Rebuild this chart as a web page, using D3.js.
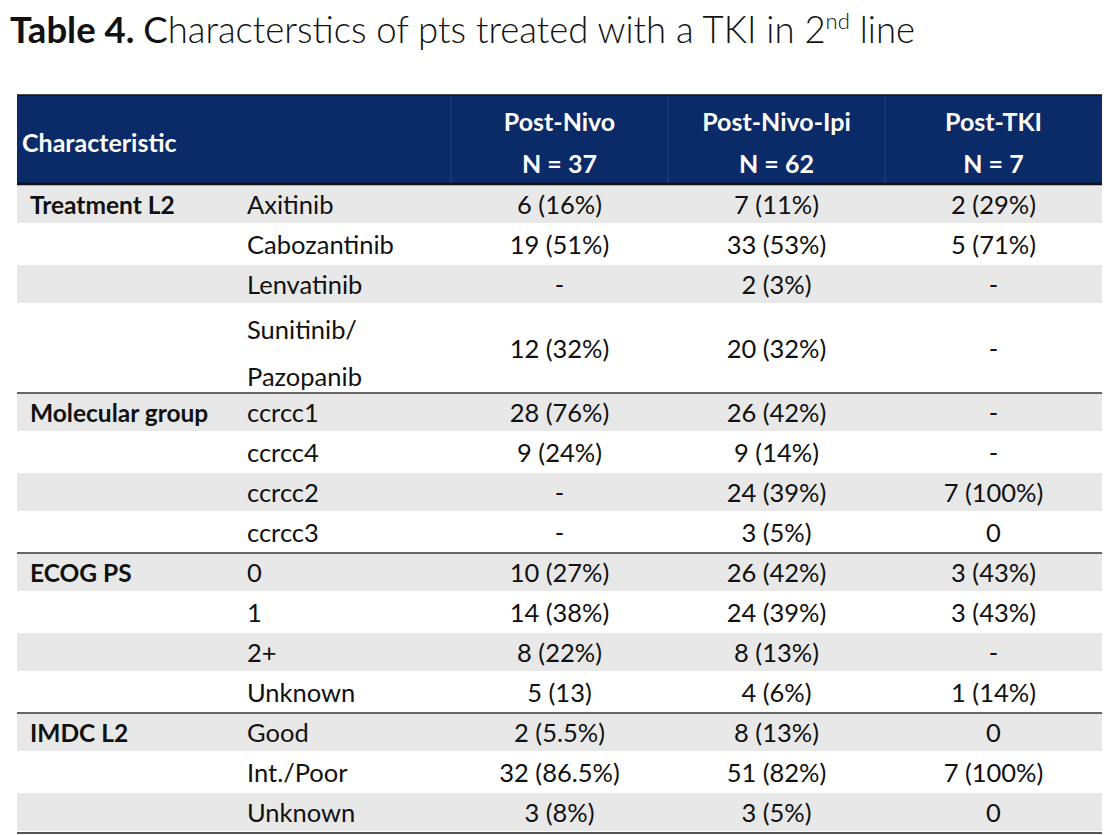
<!DOCTYPE html>
<html lang="en">
<head>
<meta charset="utf-8">
<title>Table 4</title>
<script src="https://cdn.jsdelivr.net/npm/d3@7"></script>
<style>
  body { margin: 0; background: #fff; }
  text { font-family: Lato, "Open Sans", sans-serif; }
</style>
</head>
<body>
<script>
// table content
var columns = ["Post-Nivo", "Post-Nivo-Ipi", "Post-TKI"];
var columnN = ["N = 37", "N = 62", "N = 7"];
var groups = ["Treatment L2", "", "", "", "Molecular group", "", "", "", "ECOG PS", "", "", "", "IMDC L2", "", ""];
var rowLabels = ["Axitinib", "Cabozantinib", "Lenvatinib", "Sunitinib/\nPazopanib",
  "ccrcc1", "ccrcc4", "ccrcc2", "ccrcc3",
  "0", "1", "2+", "Unknown",
  "Good", "Int./Poor", "Unknown"];
var postNivo = ["6 (16%)", "19 (51%)", "-", "12 (32%)",
  "28 (76%)", "9 (24%)", "-", "-",
  "10 (27%)", "14 (38%)", "8 (22%)", "5 (13)",
  "2 (5.5%)", "32 (86.5%)", "3 (8%)"];
var postNivoIpi = ["7 (11%)", "33 (53%)", "2 (3%)", "20 (32%)",
  "26 (42%)", "9 (14%)", "24 (39%)", "3 (5%)",
  "26 (42%)", "24 (39%)", "8 (13%)", "4 (6%)",
  "8 (13%)", "51 (82%)", "3 (5%)"];
var postTKI = ["2 (29%)", "5 (71%)", "-", "-",
  "-", "-", "7 (100%)", "0",
  "3 (43%)", "3 (43%)", "-", "1 (14%)",
  "0", "7 (100%)", "0"];

var W = 1111, H = 835;
var left = 17, right = 1102, headTop = 95, headBottom = 185, bottom = 833;
var navy = "#0b2a68";

var svg = d3.select("body").append("svg")
  .attr("width", W).attr("height", H);

// title
var title = svg.append("text").attr("x", 10).attr("y", 43)
  .attr("font-size", 36.5).attr("fill", "#111");
title.append("tspan").attr("font-weight", 700).text("Table 4. ");
title.append("tspan").attr("font-weight", 400).text("C");
title.append("tspan").attr("font-weight", 300).text("haracterstics of pts treated with a TKI in 2");
title.append("tspan").attr("font-weight", 300).attr("font-size", 22).attr("dy", -14).text("nd");
title.append("tspan").attr("font-weight", 300).attr("dy", 14).text(" line");

// row layout: units per row (Sunitinib/Pazopanib is a double row)
var units = rowLabels.map(function(d) { return d.indexOf("\n") >= 0 ? 2.2 : 1; });
var cum = [0];
units.forEach(function(u, i) { cum.push(cum[i] + u); });
var y = d3.scaleLinear().domain([0, cum[cum.length - 1]]).range([headBottom, bottom]);

var x = d3.scaleBand().domain(columns).range([451, right]);
var series = [postNivo, postNivoIpi, postTKI];

var rows = rowLabels.map(function(label, i) {
  return { i: i, group: groups[i], label: label, y0: y(cum[i]), y1: y(cum[i + 1]),
    values: series.map(function(s) { return s[i]; }) };
});

// zebra bands
svg.selectAll("rect.band").data(rows.filter(function(d) { return d.i % 2 === 0; }))
  .enter().append("rect").attr("class", "band")
  .attr("x", left).attr("width", right - left)
  .attr("y", function(d) { return d.y0; })
  .attr("height", function(d) { return d.y1 - d.y0 - 2; })
  .attr("fill", "#e8e8e8");

// header
svg.append("rect").attr("x", left).attr("y", headTop)
  .attr("width", right - left).attr("height", headBottom - headTop)
  .attr("fill", navy);
svg.selectAll("line.vsep").data(columns).enter().append("line")
  .attr("x1", function(d) { return x(d); }).attr("x2", function(d) { return x(d); })
  .attr("y1", headTop).attr("y2", headBottom - 2)
  .attr("stroke", "#24457f").attr("stroke-width", 1);
svg.append("line").attr("x1", left).attr("x2", right)
  .attr("y1", headBottom - 1).attr("y2", headBottom - 1)
  .attr("stroke", "#111").attr("stroke-width", 2.5);
svg.append("line").attr("x1", left).attr("x2", right)
  .attr("y1", headTop).attr("y2", headTop)
  .attr("stroke", "#111").attr("stroke-width", 1.5);

svg.append("text").attr("x", 22).attr("y", 152)
  .attr("font-size", 25).attr("font-weight", 700).attr("fill", "#fff")
  .text("Characteristic");
columns.forEach(function(c, j) {
  var cx = x(c) + x.bandwidth() / 2;
  svg.append("text").attr("x", cx).attr("y", 131).attr("text-anchor", "middle")
    .attr("font-size", 25).attr("font-weight", 700).attr("fill", "#fff").text(c);
  svg.append("text").attr("x", cx).attr("y", 173).attr("text-anchor", "middle")
    .attr("font-size", 25).attr("font-weight", 700).attr("fill", "#fff").text(columnN[j]);
});

// body rows
var g = svg.selectAll("g.row").data(rows).enter().append("g").attr("class", "row");

g.append("text").attr("x", 30)
  .attr("y", function(d) { return d.y0 + 29; })
  .attr("font-size", 24.5).attr("font-weight", 700).attr("fill", "#111")
  .text(function(d) { return d.group; });

g.each(function(d) {
  var lines = d.label.split("\n");
  var sel = d3.select(this);
  lines.forEach(function(l, k) {
    sel.append("text").attr("x", 247)
      .attr("y", lines.length > 1 ? d.y0 + 34 + k * 47 : d.y0 + 29)
      .attr("font-size", 25.5).attr("fill", "#111").text(l);
  });
  var mid = (d.y0 + d.y1) / 2;
  d.values.forEach(function(v, j) {
    sel.append("text").attr("x", x(columns[j]) + x.bandwidth() / 2)
      .attr("y", mid + 9).attr("text-anchor", "middle")
      .attr("font-size", 25.5).attr("fill", "#111").text(v);
  });
});

// group separators
var sepRows = rows.filter(function(d) { return d.group !== "" && d.i > 0; });
svg.selectAll("line.gsep").data(sepRows).enter().append("line")
  .attr("x1", left).attr("x2", right)
  .attr("y1", function(d) { return d.y0; }).attr("y2", function(d) { return d.y0; })
  .attr("stroke", "#666").attr("stroke-width", 2);
svg.append("line").attr("x1", left).attr("x2", right)
  .attr("y1", bottom).attr("y2", bottom)
  .attr("stroke", "#555").attr("stroke-width", 2);
</script>
</body>
</html>
